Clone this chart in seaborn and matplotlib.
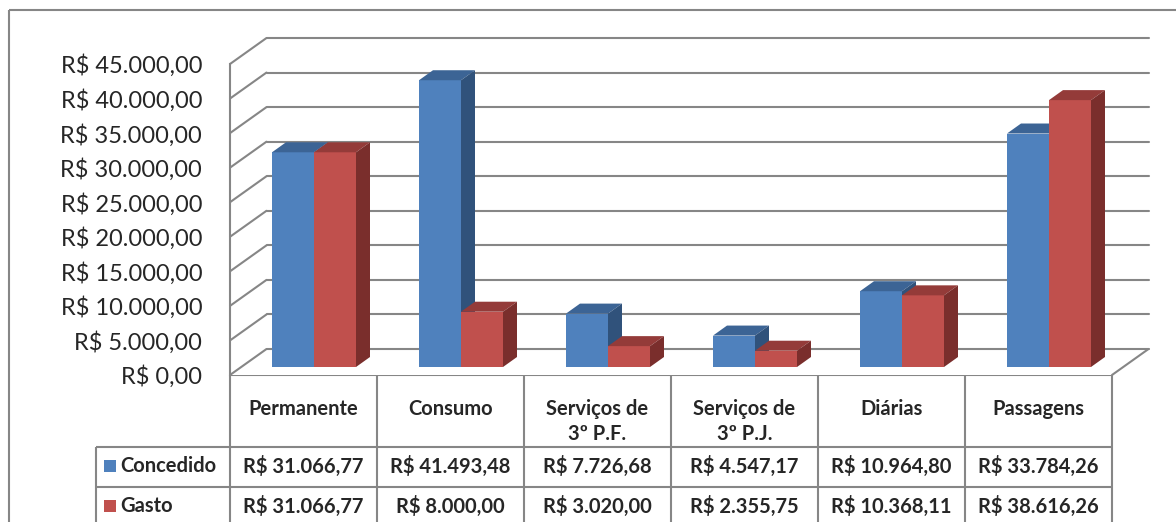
import seaborn as sns
import matplotlib.pyplot as plt
import pandas as pd
from matplotlib.patches import Polygon, Rectangle

# Dados
categorias = ["Permanente", "Consumo", "Serviços de\n3º P.F.", "Serviços de\n3º P.J.",
              "Diárias", "Passagens"]
series = ["Concedido", "Gasto"]
concedido = [31066.77, 41493.48, 7726.68, 4547.17, 10964.80, 33784.26]
gasto = [31066.77, 8000.00, 3020.00, 2355.75, 10368.11, 38616.26]
y_ticks = [0, 5000, 10000, 15000, 20000, 25000, 30000, 35000, 40000, 45000]

# cores: frente, topo, lateral
cores = {
    "Concedido": ("#4F81BD", "#3C6495", "#30527B"),
    "Gasto": ("#C0504D", "#943B39", "#7A2E2C"),
}
cinza = "#868686"


def brl(v):
    s = f"{v:,.2f}"
    return "R$ " + s.replace(",", "X").replace(".", ",").replace("X", ".")


sns.set_style("white")
plt.rcParams["font.family"] = ["Lato", "DejaVu Sans"]

# geometria em pixels
W, H = 1176, 522
X0, X1 = 230, 1150          # lados do eixo
Y0, Y1 = 375, 30            # base (valor 0) e topo do eixo
CAT_PX = 147                # largura de cada categoria
VAL_PX = 311 / 45000        # pixels por R$


def off(px, py):
    return px / CAT_PX, py / VAL_PX


fig = plt.figure(figsize=(W / 100, H / 100), dpi=100)
ax = fig.add_axes([X0 / W, (H - Y0) / H, (X1 - X0) / W, (Y0 - Y1) / H])

df = pd.DataFrame({
    "categoria": categorias * 2,
    "serie": [series[0]] * len(categorias) + [series[1]] * len(categorias),
    "valor": concedido + gasto,
})
sns.barplot(data=df, x="categoria", y="valor", hue="serie",
            palette=[cores[s][0] for s in series], width=84 / CAT_PX,
            saturation=1, errorbar=None, legend=False, ax=ax)

ax.set_xlim(-0.5, -0.5 + (X1 - X0) / CAT_PX)
ax.set_ylim(0, (Y0 - Y1) / VAL_PX)

# efeito 3D
wx, wy = off(36.5, 26)      # profundidade da parede
bx, by = off(10.5, 8)       # deslocamento da frente das barras
dx, dy = off(14, 10)        # profundidade das barras

n = len(categorias)
for i, p in enumerate(list(ax.patches)):
    s = series[i // n]
    frente, topo, lado = cores[s]
    z = 2 + i // n
    p.set_x(p.get_x() + bx)
    p.set_y(p.get_y() + by)
    p.set_linewidth(0)
    p.set_zorder(z)
    x, y, w, h = p.get_x(), p.get_y(), p.get_width(), p.get_height()
    ax.add_patch(Polygon([(x, y + h), (x + w, y + h), (x + w + dx, y + h + dy), (x + dx, y + h + dy)],
                         closed=True, facecolor=topo, lw=0, zorder=z))
    ax.add_patch(Polygon([(x + w, y), (x + w + dx, y + dy), (x + w + dx, y + h + dy), (x + w, y + h)],
                         closed=True, facecolor=lado, lw=0, zorder=z))

# grade nas paredes
x_left = -0.5
x_end = n - 0.5
for v in y_ticks:
    ax.plot([x_left, x_left + wx], [v, v + wy], color=cinza, lw=1.5, zorder=1, clip_on=False)
    ax.plot([x_left + wx, x_end + wx], [v + wy, v + wy], color=cinza, lw=1.5, zorder=1, clip_on=False)
ax.plot([x_end, x_end + wx], [0, wy], color=cinza, lw=1.5, zorder=1, clip_on=False)

ax.set_xticks([])
ax.set_xlabel("")
ax.set_ylabel("")
ax.set_yticks(y_ticks)
ax.set_yticklabels([brl(v) for v in y_ticks])
ax.tick_params(axis="y", length=0, pad=20, labelsize=17)
for sp in ["top", "right", "bottom"]:
    ax.spines[sp].set_visible(False)
ax.spines["left"].set_color(cinza)
ax.spines["left"].set_linewidth(1.5)
ax.spines["left"].set_bounds(0, 45000)

# tabela de dados
tab = fig.add_axes([0, 0, 1, 1], zorder=-1)
tab.set_xlim(0, W)
tab.set_ylim(H, 0)
tab.axis("off")

LEG_X = 96
ROWS = [375, 447, 487, 527]
XT = X0 + n * CAT_PX
kw = dict(color=cinza, lw=1.5, solid_capstyle="butt")
tab.plot([X0, XT], [ROWS[0], ROWS[0]], **kw)
for r in ROWS[1:3]:
    tab.plot([LEG_X, XT], [r, r], **kw)
tab.plot([LEG_X, LEG_X], [ROWS[1], H], **kw)
for j in range(n + 1):
    xc = X0 + j * CAT_PX
    tab.plot([xc, xc], [ROWS[0], H], **kw)

# moldura externa
tab.plot([9, W], [10, 10], **kw)
tab.plot([9, 9], [10, H], **kw)

for j, c in enumerate(categorias):
    xc = X0 + (j + 0.5) * CAT_PX
    tab.text(xc, 399, c, ha="center", va="top", fontsize=14.5, fontweight="bold",
             linespacing=1.3)
    for k, vals in enumerate([concedido, gasto]):
        yc = (ROWS[k + 1] + ROWS[k + 2]) / 2 - 1
        tab.text(xc, yc, brl(vals[j]), ha="center", va="center", fontsize=14.5,
                 fontweight="bold")

for k, s in enumerate(series):
    yc = (ROWS[k + 1] + ROWS[k + 2]) / 2 - 1
    tab.add_patch(Rectangle((104, yc - 6), 12, 12, facecolor=cores[s][0], lw=0))
    tab.text(120, yc, s, ha="left", va="center", fontsize=14.5, fontweight="bold")

fig.savefig("out.png", dpi=100)
